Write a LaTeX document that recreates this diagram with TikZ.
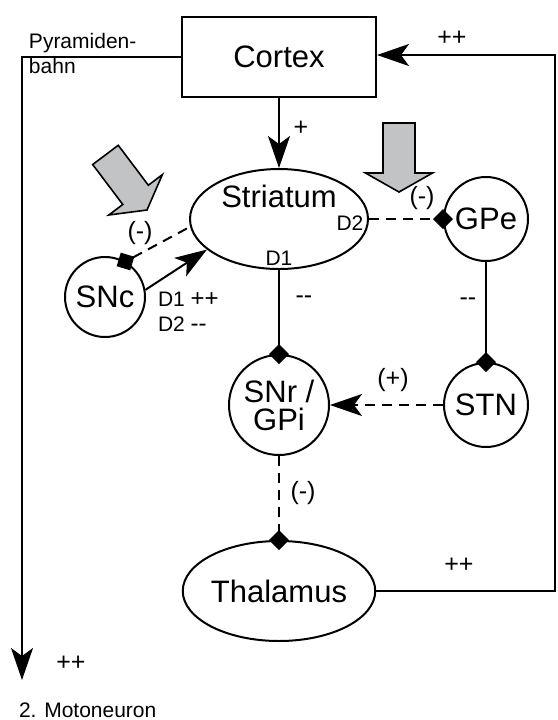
\documentclass[tikz,border=0pt]{standalone}
\usepackage{fontspec}
\setmainfont{Liberation Sans}
\usepackage{xcolor}
\definecolor{HintGray}{RGB}{193,195,197}
\usetikzlibrary{positioning,arrows.meta,shapes.geometric,calc}

\begin{document}
\begin{tikzpicture}[x=0.5pt, y=-0.5pt, line width=1pt,
    box/.style={rectangle, draw=black, minimum width=97pt, minimum height=40pt,
              font=\fontsize{15.5}{18}\selectfont},
    el/.style={ellipse, draw=black, minimum width=89pt, minimum height=50pt, inner sep=0pt,
              font=\fontsize{15.5}{18}\selectfont},
    nuc/.style={circle, draw=black, minimum size=42pt, inner sep=0pt, align=center,
              font=\fontsize{15.5}{14}\selectfont},
    big/.style={font=\fontsize{15.5}{18}\selectfont, inner sep=0pt},
    lbl/.style={font=\fontsize{12.5}{14}\selectfont, inner sep=0pt},
    sm/.style={font=\fontsize{10.5}{12.5}\selectfont, inner sep=0pt},
    a/.style={-{Stealth[length=16pt, width=11pt, inset=4pt]}},
    inh/.style={-{Diamond[length=10pt, width=10pt]}, shorten >=-5pt},
    inhs/.style={{Diamond[length=10pt, width=10pt]}-, shorten <=-5pt},
    dsh/.style={dash pattern=on 5pt off 3.5pt},
    hintfill/.style={draw=black, fill=HintGray, line width=0.8pt, line join=miter},
    hintarrow/.pic={
        \draw[hintfill] (0,0) -- (-33.5,-19) -- (-16,-19) -- (-16,-69)
            -- (16,-69) -- (16,-19) -- (33.5,-19) -- cycle;
    }
]
    \useasboundingbox (0,0) rectangle (558,720);

    % nuclei
    \node[box] (cortex) at (279,57) {Cortex};
    \node[el, below=35pt of cortex] (str) {};
    \node[big] (strname) at ($(str.center)+(0,-23)$) {Striatum};
    \node[sm] (strd2) at ($(str.east)+(-19,4)$) {D2};
    \node[sm] (strd1) at ($(str.south)+(0,-12)$) {D1};
    \node[nuc, right=37pt of str] (gpe) {GPe};
    \node[nuc, below=50pt of gpe] (stn) {STN};
    \node[nuc, minimum size=50pt, below=42pt of str] (snr) {SNr /\\GPi};
    \node[el, below=42pt of snr] (thal) {Thalamus};
    \node[nuc, minimum size=40pt] (snc) at (105,297) {SNc};

    % gray hints
    \pic at (399,192) {hintarrow};
    \pic[rotate=37] at (147,210) {hintarrow};

    % labels
    \node[sm, anchor=north west, align=left] (pyrlbl) at (28,32) {Pyramiden-\\bahn};
    \node[lbl] (pp1) at (452,38) {++};
    \node[lbl] (plus1) at (301,128) {+};
    \node[lbl] (inh1) at (140,233) {(-)};
    \node[lbl] (inh2) at (422,198) {(-)};
    \node[lbl] (mm1) at (304,300) {-{}-};
    \node[lbl] (mm2) at (468,302) {-{}-};
    \node[sm, anchor=west, align=left] (sncd) at (157,312)
        {D1 {\fontsize{12}{10.5}\selectfont ++}\\D2 {\fontsize{12}{10.5}\selectfont -{}-}};
    \node[lbl] (plus2) at (393,380) {(+)};
    \node[lbl] (inh3) at (303,493) {(-)};
    \node[lbl] (pp2) at (459,565) {++};
    \node[lbl] (pp3) at (71,663) {++};
    \node[sm, anchor=west] (moto) at (18,710) {2. Motoneuron};

    \coordinate (rx) at (555,55);
    \coordinate (down) at (22,680);

    % connections
    \draw[a] (cortex) -- (str);
    \draw[a] (snc.10) -- (str.203);
    \draw[dsh, inhs] (snc.60) -- (str.185);
    \draw[dsh, inh] (str) -- (gpe);
    \draw[inh] (str) -- (snr);
    \draw[inh] (gpe) -- (stn);
    \draw[dsh, a] (stn) -- (snr);
    \draw[dsh, inh] (snr) -- (thal);
    \draw[a] (thal.east) -| (rx) -- (rx -| cortex.east);
    \draw[a] (cortex) -| (down);
\end{tikzpicture}
\end{document}
